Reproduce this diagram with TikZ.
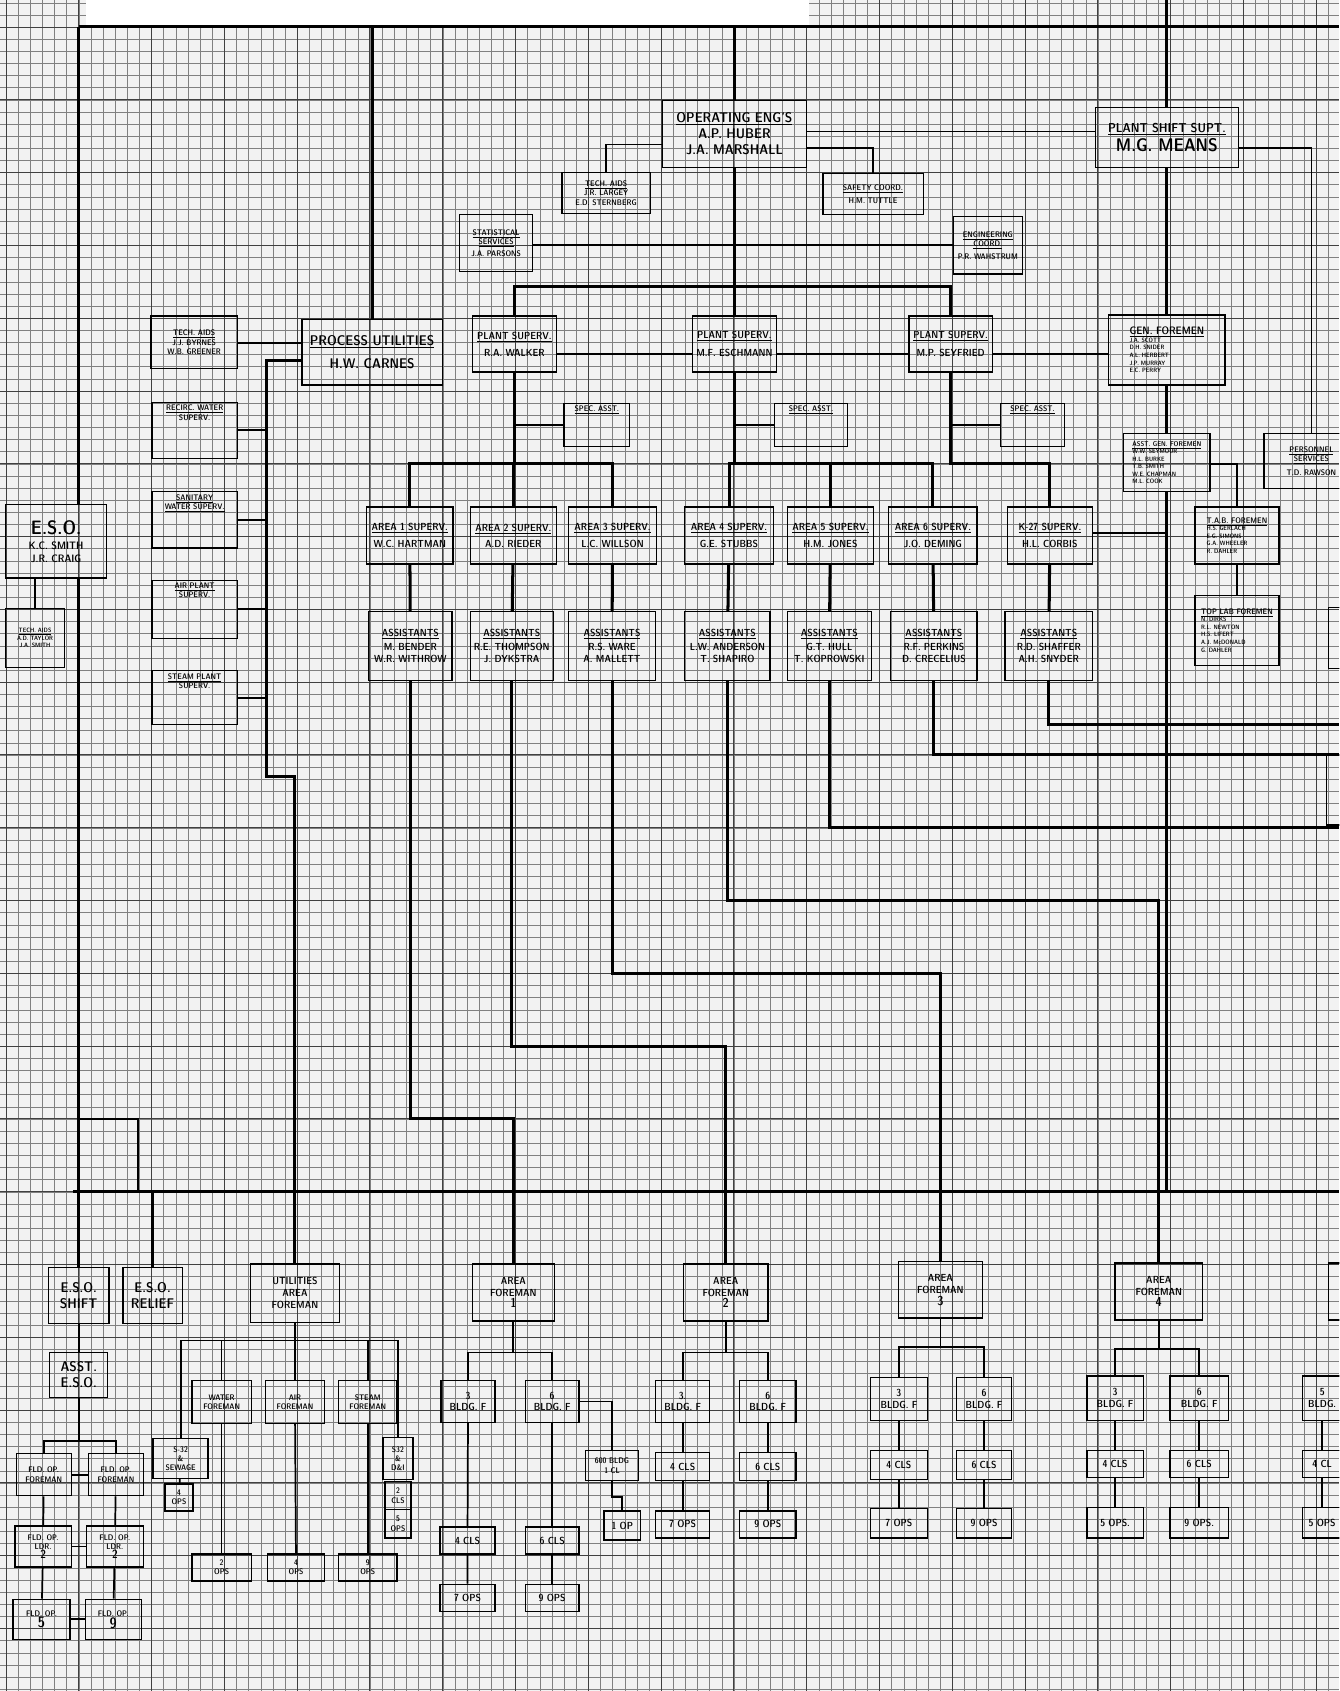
\documentclass[tikz,border=0pt]{standalone}
\usetikzlibrary{positioning,calc}
\tikzset{
  paper/.style={fill=black!5},
  gridthin/.style={draw=black!50, line width=0.35pt},
  gridheavy/.style={draw=black!75, line width=0.8pt},
  box/.style={draw, line width=1.2pt, inner sep=1pt, align=center, font=\fontsize{9.5}{11}\fontseries{sbc}\sffamily},
  bigtext/.style={font=\fontsize{13}{15}\fontseries{sbc}\sffamily},
  smalltext/.style={font=\fontsize{7.5}{8.6}\fontseries{sbc}\sffamily},
  tinytext/.style={font=\fontsize{5.8}{7}\fontseries{sbc}\sffamily},
  toptext/.style={label={[anchor=north, align=center, inner sep=3pt, font=\fontsize{7.5}{8.6}\fontseries{sbc}\sffamily]north:#1}},
  trunk/.style={line width=2.8pt},
  link/.style={line width=1.6pt},
}
\begin{document}
\begin{tikzpicture}[x=1pt,y=1pt,yscale=-1,xscale=1]
\useasboundingbox (0,0) rectangle (1242,1568);
\clip (0,0) rectangle (1242,1568);

%Graph paper
\fill[paper] (0,0) rectangle (1242,1568);
\foreach \i in {0,...,110} \draw[gridthin] ({5.5+11.25*\i},0) -- ({5.5+11.25*\i},1568);
\foreach \j in {-2,...,137} \draw[gridthin] (0,{25+11.25*\j}) -- (1242,{25+11.25*\j});
\foreach \i in {0,...,18} \draw[gridheavy] ({5.5+67.5*\i},0) -- ({5.5+67.5*\i},1568);
\foreach \j in {0,...,22} \draw[gridheavy] (0,{25+67.5*\j}) -- (1242,{25+67.5*\j});
\fill[white] (80,0) rectangle (750,23);

%Levels used by the connectors
\coordinate (ttop) at (0,0);
\coordinate (tl) at (73,25);
\coordinate (tr) at (1242,25);
\coordinate (busL) at (68,1105);
\coordinate (busR) at (1242,1105);
\coordinate (yPS) at (0,122);
\coordinate (yTA) at (0,134);
\coordinate (ySC) at (0,137);
\coordinate (yST) at (0,227.5);
\coordinate (yPB) at (0,266);
\coordinate (yPL) at (0,328);
\coordinate (yTP) at (0,318);
\coordinate (yAB) at (0,430);
\coordinate (yTB) at (0,430);
\coordinate (yK) at (0,494);
\coordinate (u1) at (247,334);
\coordinate (u2) at (247,720);
\coordinate (k1) at (380.5,1037.5);
\coordinate (k2) at (474.5,970);
\coordinate (k3) at (567.5,902.5);
\coordinate (k4) at (674.5,835);
\coordinate (e5) at (1242,767.5);
\coordinate (e6) at (1242,700);
\coordinate (e7) at (1242,672);
\coordinate (lp) at (128,1037.5);
\coordinate (uy) at (0,1243);
\coordinate (fy) at (0,1336);
\coordinate (f1y) at (0,1254);
\coordinate (f2y) at (0,1254);
\coordinate (f3y) at (0,1249);
\coordinate (f4y) at (0,1251);
\coordinate (gy) at (0,1388);

%Shape: Rectangle [top]
\node[box, bigtext, minimum width=133pt, minimum height=62pt] (ops) at (681,124) {\underline{OPERATING ENG'S}\\A.P. HUBER\\J.A. MARSHALL};
\node[box, minimum width=133pt, minimum height=55pt] (shift) at (1082,127.5) {{\fontsize{12}{14}\selectfont\underline{PLANT SHIFT SUPT.}}\\[3pt]{\fontsize{17}{19}\selectfont M.G. MEANS}};
\node[box, smalltext, minimum width=82pt, minimum height=38pt] (techop) at (562,179) {\underline{TECH. AIDS}\\J.R. LARGEY\\E.D. STERNBERG};
\node[box, smalltext, minimum width=93pt, minimum height=38pt] (safety) at (809.5,180) {\underline{SAFETY COORD.}\\[3pt]H.M. TUTTLE};
\node[box, smalltext, minimum width=68pt, minimum height=53pt] (stat) at (460,225.5) {\underline{STATISTICAL}\\\underline{SERVICES}\\[3pt]J.A. PARSONS};
\node[box, smalltext, minimum width=64pt, minimum height=53pt] (eng) at (916,227.5) {\underline{ENGINEERING}\\\underline{COORD.}\\[3pt]P.R. WAHSTRUM};

%Shape: Rectangle [plant supervisors]
\node[box, minimum width=78pt, minimum height=52pt] (ps1) at (477,319) {\underline{PLANT SUPERV.}\\[5pt]R.A. WALKER};
\node[box, minimum width=78pt, minimum height=52pt] (ps2) at (681,319) {\underline{PLANT SUPERV.}\\[5pt]M.F. ESCHMANN};
\node[box, minimum width=77pt, minimum height=52pt] (ps3) at (881.5,319) {\underline{PLANT SUPERV.}\\[5pt]M.P. SEYFRIED};
\node[box, bigtext, minimum width=130pt, minimum height=61pt] (proc) at (345,326.5) {\underline{PROCESS UTILITIES}\\[7pt]H.W. CARNES};
\node[box, smalltext, minimum width=80pt, minimum height=49pt] (techpu) at (180,317.5) {\underline{TECH. AIDS}\\J.J. BYRNES\\W.B. GREENER};
\node[box, minimum width=79pt, minimum height=52pt, toptext={\underline{RECIRC. WATER}\\SUPERV.}] (recirc) at (180.5,399) {};
\node[box, minimum width=79pt, minimum height=52pt, toptext={\underline{SANITARY}\\\underline{WATER SUPERV.}}] (sanit) at (180.5,482) {};
\node[box, minimum width=79pt, minimum height=54pt, toptext={\underline{AIR PLANT}\\SUPERV.}] (airpl) at (180.5,565) {};
\node[box, minimum width=79pt, minimum height=50pt, toptext={\underline{STEAM PLANT}\\SUPERV.}] (steampl) at (180.5,647) {};

%Shape: Rectangle [special assistants]
\node[box, minimum width=61pt, minimum height=40pt, toptext={\underline{SPEC. ASST.}}] (sa1) at (553.5,394) {};
\node[box, minimum width=68pt, minimum height=40pt, toptext={\underline{SPEC. ASST.}}] (sa2) at (752,394) {};
\node[box, minimum width=59pt, minimum height=40pt, toptext={\underline{SPEC. ASST.}}] (sa3) at (957.5,394) {};

%Shape: Rectangle [area supervisors]
\node[box, minimum width=80pt, minimum height=53pt] (a1) at (380,496.5) {\underline{AREA 1 SUPERV.}\\[4pt]W.C. HARTMAN};
\node[box, minimum width=80pt, minimum height=53pt] (a2) at (476,496.5) {\underline{AREA 2 SUPERV.}\\[4pt]A.D. RIEDER};
\node[box, minimum width=82pt, minimum height=53pt] (a3) at (568,496.5) {\underline{AREA 3 SUPERV.}\\[4pt]L.C. WILLSON};
\node[box, minimum width=82pt, minimum height=53pt] (a4) at (676,496.5) {\underline{AREA 4 SUPERV.}\\[4pt]G.E. STUBBS};
\node[box, minimum width=80pt, minimum height=53pt] (a5) at (770,496.5) {\underline{AREA 5 SUPERV.}\\[4pt]H.M. JONES};
\node[box, minimum width=82pt, minimum height=53pt] (a6) at (865,496.5) {\underline{AREA 6 SUPERV.}\\[4pt]J.O. DEMING};
\node[box, minimum width=79pt, minimum height=53pt] (a7) at (973.5,496.5) {\underline{K-27 SUPERV.}\\[4pt]H.L. CORBIS};

%Shape: Rectangle [assistants]
\node[box, minimum width=77pt, minimum height=64pt] (s1) at (380.5,599) {\underline{ASSISTANTS}\\[2pt]M. BENDER\\W.R. WITHROW};
\node[box, minimum width=77pt, minimum height=64pt] (s2) at (474.5,599) {\underline{ASSISTANTS}\\[2pt]R.E. THOMPSON\\J. DYKSTRA};
\node[box, minimum width=81pt, minimum height=64pt] (s3) at (567.5,599) {\underline{ASSISTANTS}\\[2pt]R.S. WARE\\A. MALLETT};
\node[box, minimum width=79pt, minimum height=64pt] (s4) at (674.5,599) {\underline{ASSISTANTS}\\[2pt]L.W. ANDERSON\\T. SHAPIRO};
\node[box, minimum width=78pt, minimum height=64pt] (s5) at (769,599) {\underline{ASSISTANTS}\\[2pt]G.T. HULL\\T. KOPROWSKI};
\node[box, minimum width=80pt, minimum height=64pt] (s6) at (866,599) {\underline{ASSISTANTS}\\[2pt]R.F. PERKINS\\D. CRECELIUS};
\node[box, minimum width=81pt, minimum height=64pt] (s7) at (972.5,599) {\underline{ASSISTANTS}\\[2pt]R.D. SHAFFER\\A.H. SNYDER};

%Shape: Rectangle [shift side]
\node[box, tinytext, align=left, minimum width=108pt, minimum height=65pt] (genf) at (1082,324.5) {{\fontsize{10}{12}\selectfont\underline{GEN. FOREMEN}}\\J.A. SCOTT\\D.H. SNIDER\\A.L. HERBERT\\J.P. MURRAY\\E.C. PERRY};
\node[box, tinytext, align=left, minimum width=80pt, minimum height=54pt] (agenf) at (1082,429) {{\fontsize{6.5}{7.5}\selectfont\underline{ASST. GEN. FOREMEN}}\\W.W. SEYMOUR\\H.L. BURKE\\T.B. SMITH\\W.E. CHAPMAN\\M.L. COOK};
\node[box, tinytext, align=left, minimum width=78pt, minimum height=53pt] (tabf) at (1147,496.5) {{\fontsize{7.5}{8.6}\selectfont\underline{T.A.B. FOREMEN}}\\H.S. GERLACH\\E.G. SIMONS\\G.A. WHEELER\\R. DAHLER};
\node[box, tinytext, align=left, minimum width=78pt, minimum height=65pt] (toplab) at (1147,584.5) {{\fontsize{7.5}{8.6}\selectfont\underline{TOP LAB FOREMEN}}\\N. DIRKS\\R.L. NEWTON\\H.S. LIFERT\\A.J. McDONALD\\G. DAHLER};
\node[box, smalltext, minimum width=88pt, minimum height=51pt] (pers) at (1216,427.5) {\underline{PERSONNEL}\\\underline{SERVICES}\\[4pt]T.D. RAWSON};
\node[box, minimum width=38pt, minimum height=57pt] (rb1) at (1251,591.5) {};
\node[box, minimum width=40pt, minimum height=65pt] (rb2) at (1250,732.5) {};

%Shape: Rectangle [E.S.O.]
\node[box, font=\fontsize{10}{12}\fontseries{sbc}\sffamily, minimum width=94pt, minimum height=68pt] (eso) at (52,502) {{\fontsize{18}{20}\selectfont E.S.O.}\\[2pt]K.C. SMITH\\J.R. CRAIG};
\node[box, tinytext, minimum width=55pt, minimum height=55pt] (esotech) at (32.5,591.5) {\underline{TECH. AIDS}\\A.D. TAYLOR\\J.A. SMITH};

%Shape: Rectangle [shift operators]
\node[box, bigtext, minimum width=56pt, minimum height=52pt] (esos) at (73,1201) {E.S.O.\\SHIFT};
\node[box, bigtext, minimum width=55pt, minimum height=52pt] (esor) at (141.5,1201) {E.S.O.\\RELIEF};
\node[box, bigtext, minimum width=54pt, minimum height=42pt] (asst) at (73,1275) {ASST.\\E.S.O.};
\node[box, smalltext, minimum width=51pt, minimum height=39pt] (fof1) at (40.5,1367.5) {FLD. OP.\\FOREMAN};
\node[box, smalltext, minimum width=51pt, minimum height=39pt] (fof2) at (107.5,1367.5) {FLD. OP.\\FOREMAN};
\node[box, smalltext, minimum width=52pt, minimum height=38pt] (fol1) at (40,1434) {FLD. OP.\\LDR.\\{\fontsize{11}{12}\selectfont 2}};
\node[box, smalltext, minimum width=53pt, minimum height=38pt] (fol2) at (106.5,1434) {FLD. OP.\\LDR.\\{\fontsize{11}{12}\selectfont 2}};
\node[box, smalltext, minimum width=53pt, minimum height=37pt] (fo5) at (38.5,1501.5) {FLD. OP.\\{\fontsize{14}{15}\selectfont 5}};
\node[box, smalltext, minimum width=52pt, minimum height=37pt] (fo9) at (105,1501.5) {FLD. OP.\\{\fontsize{14}{15}\selectfont 9}};

%Shape: Rectangle [utilities]
\node[box, minimum width=83pt, minimum height=54pt] (uaf) at (273.5,1199) {UTILITIES\\AREA\\FOREMAN};
\node[box, smalltext, minimum width=55pt, minimum height=40pt] (wf) at (205.5,1300) {WATER\\FOREMAN};
\node[box, smalltext, minimum width=55pt, minimum height=40pt] (afm) at (273.5,1300) {AIR\\FOREMAN};
\node[box, smalltext, minimum width=54pt, minimum height=40pt] (sfm) at (341,1300) {STEAM\\FOREMAN};
\node[box, smalltext, minimum width=51pt, minimum height=37pt] (sew) at (167.5,1352.5) {S-32\\\&\\SEWAGE};
\node[box, smalltext, minimum width=26pt, minimum height=25pt] (sewops) at (166,1388.5) {4\\OPS};
\node[box, smalltext, minimum width=55pt, minimum height=25pt] (wops) at (205.5,1453.5) {2\\OPS};
\node[box, smalltext, minimum width=53pt, minimum height=25pt] (aops) at (274.5,1453.5) {4\\OPS};
\node[box, smalltext, minimum width=54pt, minimum height=25pt] (sops) at (341,1453.5) {9\\OPS};
\node[box, smalltext, minimum width=28pt, minimum height=39pt] (dei) at (369,1352.5) {S32\\\&\\D\&I};
\node[box, smalltext, minimum width=24pt, minimum height=26pt] (deicls) at (369,1387) {2\\CLS};
\node[box, smalltext, minimum width=24pt, minimum height=26pt] (deiops) at (369,1413) {5\\OPS};

%Shape: Rectangle [area foreman 1]
\node[box, minimum width=76pt, minimum height=53pt] (f1) at (476,1198.5) {AREA\\FOREMAN\\{\fontsize{12}{13}\selectfont 1}};
\node[box, minimum width=50pt, minimum height=39pt] (f1b3) at (434,1299.5) {3\\BLDG. F};
\node[box, minimum width=50pt, minimum height=39pt] (f1b6) at (512,1299.5) {6\\BLDG. F};
\node[box, minimum width=51pt, minimum height=25pt] (f1c4) at (433.5,1428.5) {4 CLS};
\node[box, minimum width=50pt, minimum height=25pt] (f1c6) at (512,1428.5) {6 CLS};
\node[box, minimum width=51pt, minimum height=25pt] (f1o7) at (433.5,1481.5) {7 OPS};
\node[box, minimum width=50pt, minimum height=25pt] (f1o9) at (512,1481.5) {9 OPS};
\node[box, smalltext, minimum width=49pt, minimum height=28pt] (f1g) at (567.5,1359) {600 BLDG\\1 CL};
\node[box, minimum width=34pt, minimum height=27pt] (f1g1) at (577,1414.5) {1 OP};

%Shape: Rectangle [area foreman 2]
\node[box, minimum width=78pt, minimum height=53pt] (f2) at (673,1198.5) {AREA\\FOREMAN\\{\fontsize{12}{13}\selectfont 2}};
\node[box, minimum width=50pt, minimum height=39pt] (f2b3) at (633,1299.5) {3.\\BLDG. F};
\node[box, minimum width=52pt, minimum height=39pt] (f2b6) at (712,1299.5) {6\\BLDG. F};
\node[box, minimum width=50pt, minimum height=26pt] (f2c4) at (633,1360) {4 CLS};
\node[box, minimum width=52pt, minimum height=26pt] (f2c6) at (712,1360) {6 CLS};
\node[box, minimum width=50pt, minimum height=25pt] (f2o7) at (633,1413.5) {7 OPS};
\node[box, minimum width=52pt, minimum height=25pt] (f2o9) at (712,1413.5) {9 OPS};

%Shape: Rectangle [area foreman 3]
\node[box, minimum width=78pt, minimum height=52pt] (f3) at (872,1196) {AREA\\FOREMAN\\{\fontsize{12}{13}\selectfont 3}};
\node[box, minimum width=53pt, minimum height=40pt] (f3b3) at (833.5,1297) {3\\BLDG. F};
\node[box, minimum width=51pt, minimum height=40pt] (f3b6) at (912.5,1297) {6\\BLDG. F};
\node[box, minimum width=53pt, minimum height=27pt] (f3c4) at (833.5,1358.5) {4 CLS};
\node[box, minimum width=51pt, minimum height=27pt] (f3c6) at (912.5,1358.5) {6 CLS};
\node[box, minimum width=53pt, minimum height=27pt] (f3o7) at (833.5,1412.5) {7 OPS};
\node[box, minimum width=51pt, minimum height=27pt] (f3o9) at (912.5,1412.5) {9 OPS};

%Shape: Rectangle [area foreman 4]
\node[box, minimum width=81pt, minimum height=53pt] (f4) at (1074.5,1197.5) {AREA\\FOREMAN\\{\fontsize{12}{13}\selectfont 4}};
\node[box, minimum width=52pt, minimum height=41pt] (f4b3) at (1034,1296.5) {3\\BLDG. F};
\node[box, minimum width=54pt, minimum height=41pt] (f4b6) at (1112,1296.5) {6\\BLDG. F};
\node[box, minimum width=52pt, minimum height=25pt] (f4c4) at (1034,1357.5) {4 CLS};
\node[box, minimum width=54pt, minimum height=25pt] (f4c6) at (1112,1357.5) {6 CLS};
\node[box, minimum width=52pt, minimum height=28pt] (f4o5) at (1034,1412) {5 OPS.};
\node[box, minimum width=54pt, minimum height=28pt] (f4o9) at (1112,1412) {9 OPS.};

%Shape: Rectangle [area foreman 5, cut by the edge]
\node[box, minimum width=78pt, minimum height=53pt] (f5) at (1271,1197.5) {};
\node[box, minimum width=36pt, minimum height=41pt] (f5b3) at (1226,1296.5) {5\\BLDG.};
\node[box, minimum width=36pt, minimum height=25pt] (f5c4) at (1226,1357.5) {4 CL};
\node[box, minimum width=36pt, minimum height=28pt] (f5o5) at (1226,1412) {5 OPS};

%Straight Lines [top]
\draw[trunk] (tl) -- (tr);
\draw[trunk] (tl) -- (eso.north -| tl);
\draw[trunk] (eso.south -| tl) -- (esos.north);
\draw[trunk] (tl -| proc.north) -- (proc.north);
\draw[trunk] (tl -| ops.north) -- (ops.north);
\draw[trunk] (ttop -| shift.north) -- (shift.north);
\draw[link] (ops.east |- yPS) -- (shift.west |- yPS);
\draw[link] (ops.west |- yTA) -| (techop.north);
\draw[link] (ops.east |- ySC) -| (safety.north);
\draw[link] (shift.east |- ySC) -| (pers.north);
\draw[link] (stat.east |- yST) -- (eng.west |- yST);
\draw[link] (eso.south -| esotech.north) -- (esotech.north);

%Straight Lines [plant supervisors]
\draw[trunk] (ops.south) -- (ps2.north);
\draw[trunk] (ps1.north) |- (ps3.north |- yPB) -- (ps3.north);
\draw[link] (ps1.east |- yPL) -- (ps2.west |- yPL);
\draw[link] (ps2.east |- yPL) -- (ps3.west |- yPL);
\draw[link] (ps3.east |- yPL) -- (genf.west |- yPL);
\draw[link] (techpu.east |- yTP) -- (proc.west |- yTP);
\draw[trunk] (proc.west |- u1) -- (u1) -- (u2) -| (uaf.north);
\draw[link] (recirc.east) -- (recirc.east -| u1);
\draw[link] (sanit.east) -- (sanit.east -| u1);
\draw[link] (airpl.east) -- (airpl.east -| u1);
\draw[link] (steampl.east) -- (steampl.east -| u1);

%Straight Lines [areas]
\draw[trunk] (ps1.south) -- (ps1.south |- yAB);
\draw[trunk] (ps2.south) -- (ps2.south |- yAB);
\draw[link] (ps1.south |- sa1.west) -- (sa1.west);
\draw[link] (ps2.south |- sa2.west) -- (sa2.west);
\draw[link] (ps3.south |- sa3.west) -- (sa3.west);
\draw[trunk] (a1.north) |- (a3.north |- yAB) -- (a3.north);
\draw[trunk] (a2.north |- yAB) -- (a2.north);
\draw[trunk] (a4.north) |- (a6.north |- yAB) -- (a6.north);
\draw[trunk] (a5.north |- yAB) -- (a5.north);
\draw[trunk] (ps3.south) |- (a7.north |- yAB) -- (a7.north);
\draw[trunk] (a1) -- (s1);
\draw[trunk] (a2) -- (s2);
\draw[trunk] (a3) -- (s3);
\draw[trunk] (a4) -- (s4);
\draw[trunk] (a5) -- (s5);
\draw[trunk] (a6) -- (s6);
\draw[trunk] (a7) -- (s7);

%Straight Lines [shift side]
\draw[trunk] (shift.south) -- (genf.north);
\draw[trunk] (genf.south) -- (agenf.north);
\draw[trunk] (agenf.south) -- (agenf.south |- busL);
\draw[link] (a7.east |- yK) -- (agenf.south |- yK);
\draw[link] (agenf.east |- yTB) -| (tabf.north);
\draw[link] (tabf) -- (toplab);

%Straight Lines [long drops to the foremen]
\draw[trunk] (s1.south) -- (k1) -| (f1.north);
\draw[trunk] (s2.south) -- (k2) -| (f2.north);
\draw[trunk] (s3.south) -- (k3) -| (f3.north);
\draw[trunk] (s4.south) -- (k4) -| (f4.north);
\draw[trunk] (s5.south) |- (e5);
\draw[trunk] (s6.south) |- (e6);
\draw[trunk] (s7.south) |- (e7);
\draw[trunk] (busL) -- (busR);
\draw[trunk] (esor.north |- busL) -- (esor.north);
\draw[link] (tl |- lp) -- (lp) -- (lp |- busL);

%Straight Lines [shift operators]
\draw[link] (esos) -- (asst);
\draw[link] (asst.south) -- (asst.south |- fy);
\draw[link] (fof1.north) |- (fof2.north |- fy) -- (fof2.north);
\draw[link] (fof1) -- (fol1) -- (fo5);
\draw[link] (fof2) -- (fol2) -- (fo9);
\draw[link] (fof1) -- (fof2);
\draw[link] (fol1) -- (fol2);
\draw[link] (fo5) -- (fo9);

%Straight Lines [utilities]
\draw[link] (uaf.south) -- (uaf.south |- uy);
\draw[link] (sew.north) |- (dei.north |- uy) -- (dei.north);
\draw[link] (wf.north |- uy) -- (wf.north);
\draw[link] (afm.north |- uy) -- (afm.north);
\draw[link] (sfm.north |- uy) -- (sfm.north);
\draw[link] (wf) -- (wops);
\draw[link] (afm) -- (aops);
\draw[link] (sfm) -- (sops);
\draw[link] (sew) -- (sewops);

%Straight Lines [area foremen]
\draw[link] (f1.south) -- (f1.south |- f1y);
\draw[link] (f1b3.north) |- (f1b6.north |- f1y) -- (f1b6.north);
\draw[link] (f1b3) -- (f1c4) -- (f1o7);
\draw[link] (f1b6) -- (f1c6) -- (f1o9);
\draw[link] (f1b6.east) -| (f1g.north);
\draw[link] (f1g.south) |- (f1g1.north |- gy) -- (f1g1.north);
\draw[link] (f2.south) -- (f2.south |- f2y);
\draw[link] (f2b3.north) |- (f2b6.north |- f2y) -- (f2b6.north);
\draw[link] (f2b3) -- (f2c4) -- (f2o7);
\draw[link] (f2b6) -- (f2c6) -- (f2o9);
\draw[link] (f3.south) -- (f3.south |- f3y);
\draw[link] (f3b3.north) |- (f3b6.north |- f3y) -- (f3b6.north);
\draw[link] (f3b3) -- (f3c4) -- (f3o7);
\draw[link] (f3b6) -- (f3c6) -- (f3o9);
\draw[link] (f4.south) -- (f4.south |- f4y);
\draw[link] (f4b3.north) |- (f4b6.north |- f4y) -- (f4b6.north);
\draw[link] (f4b3) -- (f4c4) -- (f4o5);
\draw[link] (f4b6) -- (f4c6) -- (f4o9);
\draw[link] (f5b3) -- (f5c4) -- (f5o5);

\end{tikzpicture}
\end{document}
